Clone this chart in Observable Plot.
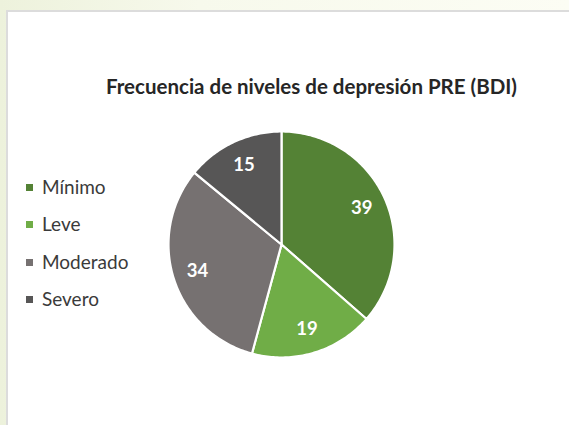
<!DOCTYPE html>
<html>
<head>
<meta charset="utf-8">
<script src="https://cdn.jsdelivr.net/npm/d3@7"></script>
<script src="https://cdn.jsdelivr.net/npm/@observablehq/plot@0.6"></script>
<style>
  html, body { margin: 0; padding: 0; }
  body { width: 569px; height: 425px; overflow: hidden; background: #f4f7e9; }
  #outer { position: relative; width: 569px; height: 425px;
    background: linear-gradient(90deg, #edf2dc 0px, #f7f9ec 200px, #fcfdf4 569px); }
  #panel { position: absolute; left: 6px; top: 10px; width: 563px; height: 415px; background: #fff;
    border-top: 2px solid #dcdcdc; border-left: 2px solid #dcdcdc; box-sizing: border-box; }
  #chart { position: absolute; left: 0; top: 0; }
  #title { position: absolute; left: 106px; width: 400px; top: 75px; text-align: center; white-space: nowrap;
    font-family: Lato, sans-serif; font-weight: bold; font-size: 20.5px; color: #262626; line-height: 22px; }
  .leg { position: absolute; left: 26px; font-family: Lato, sans-serif; font-size: 19px; color: #3a3a3a;
    line-height: 22px; display: flex; align-items: center; }
  .sw { display: inline-block; width: 7px; height: 7px; margin-right: 9px; }
</style>
</head>
<body>
<div id="outer">
  <div id="panel"></div>
  <div id="chart"></div>
  <div id="title"></div>
  <div id="legend"></div>
</div>
<script>
const categories = ["Mínimo", "Leve", "Moderado", "Severo"];
const values = [39, 19, 34, 15];
const colors = ["#548235", "#70ad47", "#767171", "#575656"];
const title = "Frecuencia de niveles de depresión PRE (BDI)";

// pie geometry (clockwise from 12 o'clock)
const arcs = d3.pie().sort(null).value(d => d)(values);
const outline = [];
const labels = [];
arcs.forEach((a, i) => {
  const name = categories[i];
  outline.push({name, px: 0, py: 0});
  const n = Math.max(2, Math.ceil((a.endAngle - a.startAngle) / (Math.PI / 180)));
  for (let k = 0; k <= n; k++) {
    const t = a.startAngle + (a.endAngle - a.startAngle) * k / n;
    outline.push({name, px: Math.sin(t), py: Math.cos(t)});
  }
  const m = (a.startAngle + a.endAngle) / 2;
  const rf = 0.78;
  labels.push({name, value: values[i], px: rf * Math.sin(m), py: rf * Math.cos(m)});
});

const cx = 281, cy = 244, r = 113;
const plot = Plot.plot({
  width: 569,
  height: 425,
  margin: 0,
  style: {background: "transparent", overflow: "visible"},
  x: {domain: [-1, 1], range: [cx - r, cx + r], axis: null},
  y: {domain: [-1, 1], range: [cy + r, cy - r], axis: null},
  color: {domain: categories, range: colors},
  marks: [
    Plot.line(outline, {x: "px", y: "py", z: "name", fill: "name", stroke: "#fff",
      strokeWidth: 2.2, curve: "linear-closed", strokeLinejoin: "round"}),
    Plot.text(labels, {x: "px", y: "py", text: "value", fill: "#fff",
      fontSize: 18.5, fontWeight: "bold", fontFamily: "Lato, sans-serif"})
  ]
});
document.getElementById("chart").appendChild(plot);
document.getElementById("title").textContent = title;

const legendY = [187, 224, 262, 299];
const leg = document.getElementById("legend");
categories.forEach((c, i) => {
  const div = document.createElement("div");
  div.className = "leg";
  div.style.top = (legendY[i] - 11) + "px";
  const sw = document.createElement("span");
  sw.className = "sw";
  sw.style.background = colors[i];
  div.appendChild(sw);
  div.appendChild(document.createTextNode(c));
  leg.appendChild(div);
});
</script>
</body>
</html>
